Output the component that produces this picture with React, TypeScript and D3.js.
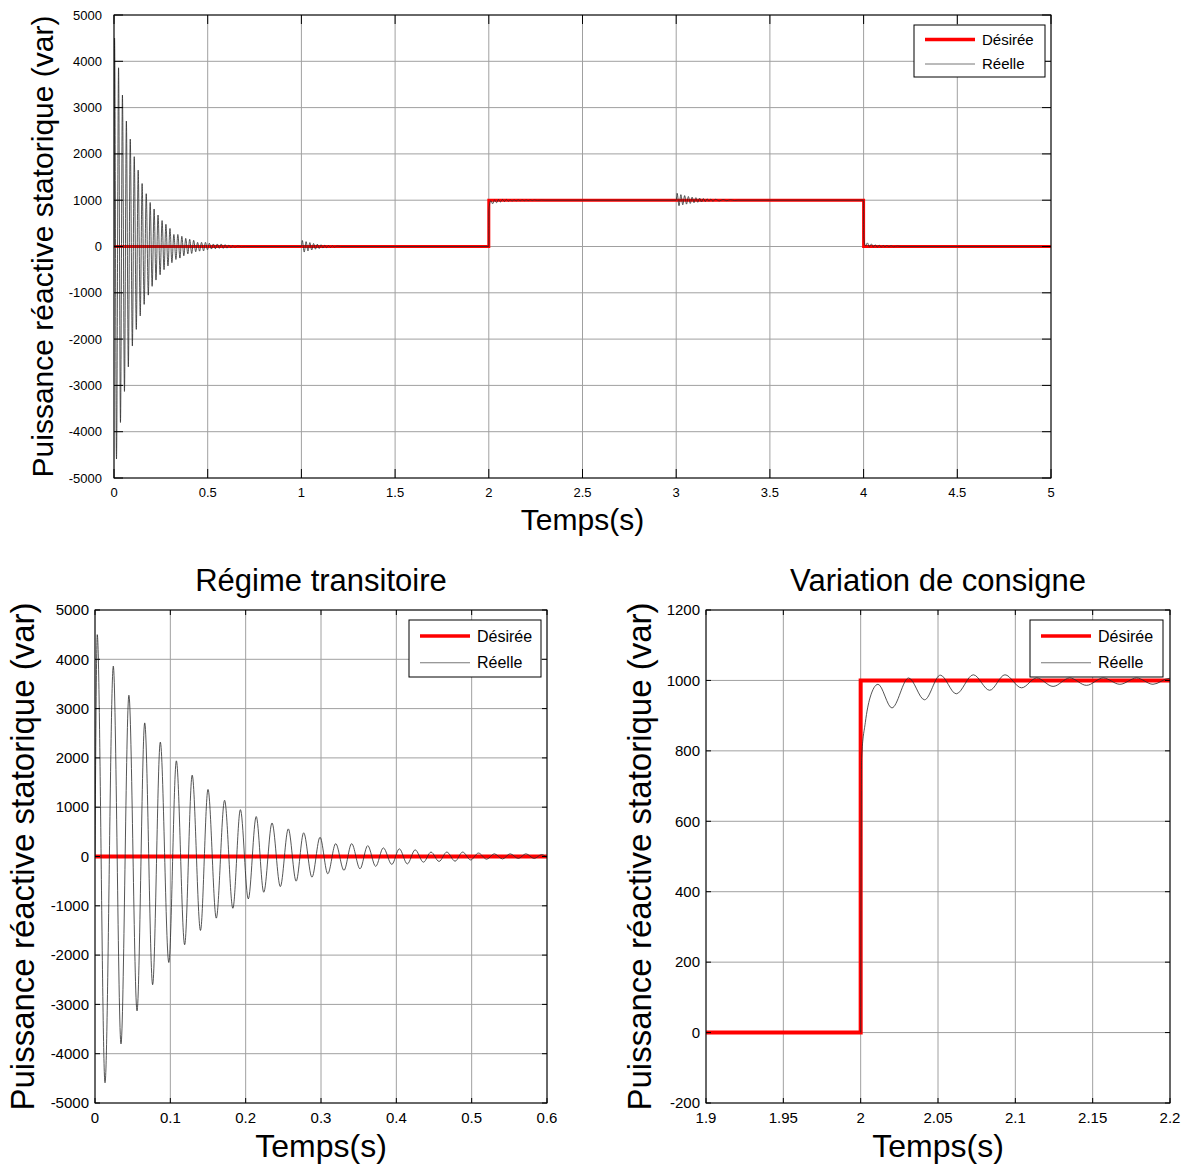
import { useEffect, useRef } from "react";
import * as d3 from "d3";

// consigne (Désirée) : échelon 0 -> 1000 var à t = 2 s, retour à 0 à t = 4 s
const consigneT = [0, 2, 4, 5];
const consigneV = [0, 1000, 0, 0];

// puissance réelle : extrema (t en s, Q en var)
const transitoire = [
  [0, 0], [0.003, 4500], [0.0133, -4590], [0.0243, 3860], [0.0345, -3800],
  [0.045, 3270], [0.0558, -3130], [0.066, 2710], [0.0765, -2600], [0.0867, 2320],
  [0.098, -2150], [0.108, 1940], [0.119, -1790], [0.129, 1650], [0.14, -1500],
  [0.15, 1360], [0.161, -1250], [0.172, 1140], [0.183, -1050], [0.193, 950],
  [0.2035, -860], [0.214, 810], [0.224, -725], [0.235, 680], [0.246, -610],
  [0.2566, 560], [0.267, -500], [0.277, 480], [0.288, -420], [0.2987, 390],
  [0.309, -350], [0.3195, 260], [0.3305, -280], [0.3407, 260], [0.3518, -250],
  [0.362, 220], [0.3726, -200], [0.3827, 175], [0.394, -160], [0.404, 155],
  [0.4146, -150], [0.425, 135], [0.436, -115], [0.446, 90], [0.4567, -100],
  [0.467, 90], [0.478, -95], [0.488, 90], [0.4987, -70], [0.509, 70],
  [0.52, -55], [0.53, 55], [0.541, -50], [0.551, 55], [0.562, -40],
  [0.572, 55], [0.583, -40], [0.593, 40], [0.603, -35], [0.613, 30],
  [0.624, -25], [0.634, 20], [0.645, -15], [0.66, 10], [0.68, -5], [0.7, 0],
];

const perturbation1 = [
  [1.0, 0], [1.005, 130], [1.015, -120], [1.025, 105], [1.035, -95],
  [1.045, 85], [1.055, -75], [1.065, 65], [1.075, -58], [1.085, 50],
  [1.095, -44], [1.105, 38], [1.115, -33], [1.125, 28], [1.135, -24],
  [1.145, 20], [1.155, -17], [1.165, 14], [1.175, -12], [1.19, 8], [1.21, 0],
];

const echelonMontee = [
  [2.0, 0], [2.0006, 780], [2.003, 880], [2.006, 950], [2.0112, 989],
  [2.0202, 922], [2.031, 1007], [2.0413, 945], [2.0515, 1015], [2.0618, 962],
  [2.0728, 1016], [2.0834, 972], [2.0933, 1016], [2.104, 979], [2.1138, 1007],
  [2.1244, 983], [2.1352, 1007], [2.146, 986], [2.1568, 1007], [2.1676, 989],
  [2.1784, 1007], [2.189, 989], [2.1995, 1006], [2.21, 991], [2.221, 1005],
  [2.232, 993], [2.243, 1004], [2.26, 996], [2.28, 1002], [2.3, 1000],
];

const perturbation3 = [
  [3.0, 1000], [3.005, 1150], [3.015, 880], [3.025, 1120], [3.035, 900],
  [3.045, 1100], [3.055, 915], [3.065, 1080], [3.075, 930], [3.085, 1065],
  [3.095, 945], [3.105, 1055], [3.115, 955], [3.125, 1045], [3.135, 962],
  [3.145, 1036], [3.155, 970], [3.165, 1030], [3.175, 975], [3.185, 1024],
  [3.195, 980], [3.21, 1018], [3.23, 985], [3.25, 1012], [3.27, 990],
  [3.29, 1008], [3.31, 994], [3.33, 1000],
];

const echelonDescente = [
  [4.0, 1000], [4.0006, 220], [4.003, 120], [4.006, 50], [4.0112, 11],
  [4.0202, 78], [4.031, -7], [4.0413, 55], [4.0515, -14], [4.0618, 38],
  [4.0728, -16], [4.0834, 28], [4.0933, -16], [4.104, 21], [4.1138, -7],
  [4.1244, 17], [4.1352, -7], [4.146, 14], [4.16, -5], [4.18, 8], [4.2, 0],
  [5.0, 0],
];

const reelle = [
  ...transitoire, ...perturbation1, ...echelonMontee, ...perturbation3, ...echelonDescente,
];

// graduations
const xTicksHaut = [0, 0.5, 1, 1.5, 2, 2.5, 3, 3.5, 4, 4.5, 5];
const yTicksQ = [-5000, -4000, -3000, -2000, -1000, 0, 1000, 2000, 3000, 4000, 5000];
const xTicksTrans = [0, 0.1, 0.2, 0.3, 0.4, 0.5, 0.6];
const xTicksCons = [1.9, 1.95, 2, 2.05, 2.1, 2.15, 2.2];
const yTicksCons = [-200, 0, 200, 400, 600, 800, 1000, 1200];

const FONT = "'Liberation Sans', Arial, Helvetica, sans-serif";

const panels = [
  {
    id: "haut",
    x0: 114, x1: 1051, y0: 15, y1: 478,
    xDomain: [0, 5], yDomain: [-5000, 5000],
    xTicks: xTicksHaut, yTicks: yTicksQ,
    tickFont: 13, tickLen: 9, yTickGap: 12, xTickY: 497,
    labelFont: 30, yLabelFont: 30, yLabelX: 53, xLabelY: 530,
    legend: { x: 914, y: 25, w: 131, h: 52, font: 15 },
  },
  {
    id: "trans",
    x0: 95, x1: 547, y0: 610, y1: 1103,
    xDomain: [0, 0.6], yDomain: [-5000, 5000],
    xTicks: xTicksTrans, yTicks: yTicksQ,
    tickFont: 15, tickLen: 5, yTickGap: 6, xTickY: 1123,
    labelFont: 32, yLabelFont: 33, yLabelX: 34, xLabelY: 1157,
    title: "Régime transitoire", titleFont: 31, titleY: 591,
    legend: { x: 409, y: 620, w: 132, h: 57, font: 16 },
  },
  {
    id: "cons",
    x0: 706, x1: 1170, y0: 610, y1: 1103,
    xDomain: [1.9, 2.2], yDomain: [-200, 1200],
    xTicks: xTicksCons, yTicks: yTicksCons,
    tickFont: 15, tickLen: 5, yTickGap: 6, xTickY: 1123,
    labelFont: 32, yLabelFont: 33, yLabelX: 651, xLabelY: 1157,
    title: "Variation de consigne", titleFont: 31, titleY: 591,
    legend: { x: 1030, y: 620, w: 133, h: 57, font: 16 },
  },
];

const fmt = (d) => String(+d.toFixed(3));

function drawPanel(svg, p) {
  const x = d3.scaleLinear().domain(p.xDomain).range([p.x0, p.x1]);
  const y = d3.scaleLinear().domain(p.yDomain).range([p.y1, p.y0]);
  const g = svg.append("g");

  g.append("rect")
    .attr("x", p.x0).attr("y", p.y0)
    .attr("width", p.x1 - p.x0).attr("height", p.y1 - p.y0)
    .attr("fill", "white");

  // grille
  g.selectAll(".gx").data(p.xTicks).enter().append("line")
    .attr("x1", (d) => x(d)).attr("x2", (d) => x(d))
    .attr("y1", p.y0).attr("y2", p.y1)
    .attr("stroke", "#a0a0a0").attr("stroke-width", 1);
  g.selectAll(".gy").data(p.yTicks).enter().append("line")
    .attr("y1", (d) => y(d)).attr("y2", (d) => y(d))
    .attr("x1", p.x0).attr("x2", p.x1)
    .attr("stroke", "#a0a0a0").attr("stroke-width", 1);

  // courbes
  const clipId = "clip-" + p.id;
  svg.append("clipPath").attr("id", clipId).append("rect")
    .attr("x", p.x0).attr("y", p.y0)
    .attr("width", p.x1 - p.x0).attr("height", p.y1 - p.y0);
  const curves = g.append("g").attr("clip-path", `url(#${clipId})`);

  const stepLine = d3.line()
    .x((d) => x(d[0])).y((d) => y(d[1]))
    .curve(d3.curveStepAfter);
  curves.append("path")
    .attr("d", stepLine(consigneT.map((t, i) => [t, consigneV[i]])))
    .attr("fill", "none").attr("stroke", "#ff0000")
    .attr("stroke-width", p.id === "haut" ? 3 : 4);

  const pts = reelle.filter((d) => d[0] >= p.xDomain[0] - 0.3 && d[0] <= p.xDomain[1] + 0.3);
  const reelLine = d3.line()
    .x((d) => x(d[0])).y((d) => y(d[1]))
    .curve(d3.curveMonotoneX);
  curves.append("path")
    .attr("d", reelLine(pts))
    .attr("fill", "none").attr("stroke", "#2a2a2a")
    .attr("stroke-width", 0.8);

  // cadre + graduations intérieures
  g.append("rect")
    .attr("x", p.x0).attr("y", p.y0)
    .attr("width", p.x1 - p.x0).attr("height", p.y1 - p.y0)
    .attr("fill", "none").attr("stroke", "black").attr("stroke-width", 1);
  const L = p.tickLen;
  p.xTicks.forEach((d) => {
    g.append("line").attr("x1", x(d)).attr("x2", x(d)).attr("y1", p.y1).attr("y2", p.y1 - L).attr("stroke", "black");
    g.append("line").attr("x1", x(d)).attr("x2", x(d)).attr("y1", p.y0).attr("y2", p.y0 + L).attr("stroke", "black");
  });
  p.yTicks.forEach((d) => {
    g.append("line").attr("y1", y(d)).attr("y2", y(d)).attr("x1", p.x0).attr("x2", p.x0 + L).attr("stroke", "black");
    g.append("line").attr("y1", y(d)).attr("y2", y(d)).attr("x1", p.x1).attr("x2", p.x1 - L).attr("stroke", "black");
  });

  // libellés des graduations
  g.selectAll(".lx").data(p.xTicks).enter().append("text")
    .attr("x", (d) => x(d)).attr("y", p.xTickY)
    .attr("text-anchor", "middle")
    .attr("font-family", FONT).attr("font-size", p.tickFont)
    .text(fmt);
  g.selectAll(".ly").data(p.yTicks).enter().append("text")
    .attr("x", p.x0 - p.yTickGap).attr("y", (d) => y(d))
    .attr("dy", "0.35em")
    .attr("text-anchor", "end")
    .attr("font-family", FONT).attr("font-size", p.tickFont)
    .text(fmt);

  // titres d'axes
  g.append("text")
    .attr("x", (p.x0 + p.x1) / 2).attr("y", p.xLabelY)
    .attr("text-anchor", "middle")
    .attr("font-family", FONT).attr("font-size", p.labelFont)
    .text("Temps(s)");
  g.append("text")
    .attr("transform", `translate(${p.yLabelX},${(p.y0 + p.y1) / 2}) rotate(-90)`)
    .attr("text-anchor", "middle")
    .attr("font-family", FONT).attr("font-size", p.yLabelFont)
    .text("Puissance réactive statorique (var)");
  if (p.title) {
    g.append("text")
      .attr("x", (p.x0 + p.x1) / 2).attr("y", p.titleY)
      .attr("text-anchor", "middle")
      .attr("font-family", FONT).attr("font-size", p.titleFont)
      .text(p.title);
  }

  // légende
  const lg = p.legend;
  const leg = g.append("g");
  leg.append("rect")
    .attr("x", lg.x).attr("y", lg.y).attr("width", lg.w).attr("height", lg.h)
    .attr("fill", "white").attr("stroke", "black").attr("stroke-width", 1);
  const rows = [
    { label: "Désirée", color: "#ff0000", w: 3.5 },
    { label: "Réelle", color: "#777", w: 1 },
  ];
  rows.forEach((r, i) => {
    const cy = lg.y + lg.h * (0.28 + 0.47 * i);
    leg.append("line")
      .attr("x1", lg.x + 11).attr("x2", lg.x + 61)
      .attr("y1", cy).attr("y2", cy)
      .attr("stroke", r.color).attr("stroke-width", r.w);
    leg.append("text")
      .attr("x", lg.x + 68).attr("y", cy).attr("dy", "0.35em")
      .attr("font-family", FONT).attr("font-size", lg.font)
      .text(r.label);
  });
}

export default function App() {
  const svgRef = useRef(null);

  useEffect(() => {
    const svg = d3.select(svgRef.current);
    svg.selectAll("*").remove();
    panels.forEach((p) => drawPanel(svg, p));
  }, []);

  return (
    <svg
      ref={svgRef}
      width={1189}
      height={1167}
      style={{ position: "absolute", left: 0, top: 0, background: "white" }}
    />
  );
}
